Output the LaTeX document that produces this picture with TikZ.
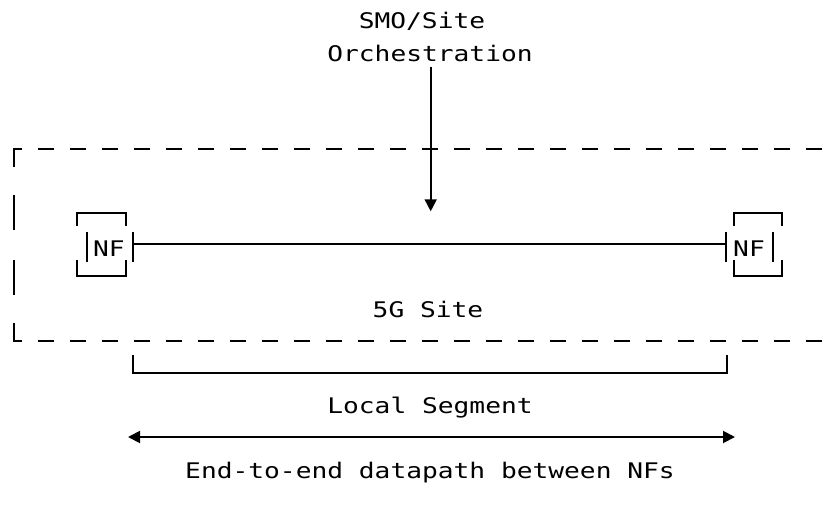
\documentclass[tikz,border=0pt]{standalone}
\usepackage{fontspec}
\newfontfamily\dmono[FakeStretch=1.22]{DejaVu Sans Mono}
\usetikzlibrary{arrows.meta}
\begin{document}
\begin{tikzpicture}[x=1pt,y=-1pt,line width=1.9pt,
  lbl/.style={font=\dmono\fontsize{21.5}{24}\selectfont,inner sep=0pt,anchor=base},
  dashline/.style={dash pattern=on 16pt off 16pt},
  downtip/.style={-{Triangle[length=12pt,width=12pt,sep=7pt]}},
  bothtips/.style={{Triangle[length=12pt,width=12pt]}-{Triangle[length=12pt,width=12pt]}}]
\useasboundingbox (0,0) rectangle (838,514);
% texts
\node[lbl] (smo) at (422,28.5) {SMO/Site};
\node[lbl] (orch) at (430,61.7) {Orchestration};
\node[lbl] (nfl) at (109,256) {NF};
\node[lbl] (nfr) at (749,256) {NF};
\node[lbl] (site) at (428,317) {5G Site};
\node[lbl] (seg) at (430,413) {Local Segment};
\node[lbl] (e2e) at (430,478) {End-to-end datapath between NFs};
% dashed site box
\draw (14,167) -- (14,149) -- (22,149);
\draw[dashline] (38,149) -- (838,149);
\draw (14,195) -- (14,230);
\draw (14,260) -- (14,295);
\draw (14,323) -- (14,341) -- (22,341);
\draw[dashline] (38,341) -- (838,341);
% left NF
\draw (77.3,226) -- (77.3,213.3) -- (125.7,213.3) -- (125.7,226);
\draw (77.3,260) -- (77.3,276) -- (125.7,276) -- (125.7,260);
\draw (86.7,232) -- (86.7,262);
\draw (133.3,232) -- (133.3,262);
% right NF
\draw (734.3,226) -- (734.3,213.3) -- (781.7,213.3) -- (781.7,226);
\draw (734.3,260) -- (734.3,276) -- (781.7,276) -- (781.7,260);
\draw (773.3,232) -- (773.3,262);
\draw (726,232) -- (726,262);
% datapath between NFs
\coordinate (lport) at (133.3,244.3);
\coordinate (rport) at (726,244.3);
\draw (lport) -- (rport);
% orchestration arrow
\coordinate (orchtop) at (430.7,66.7);
\coordinate (orchend) at (430.7,218.3);
\draw[downtip] (orchtop) -- (orchend);
% local segment bracket
\coordinate (segl) at (133.3,355);
\coordinate (segr) at (726.7,355);
\draw (segl) -- (133.3,373.3) -- (726.7,373.3) -- (segr);
% end-to-end arrow
\coordinate (e2el) at (128,437);
\coordinate (e2er) at (735,437);
\draw[bothtips] (e2el) -- (e2er);
\end{tikzpicture}
\end{document}
